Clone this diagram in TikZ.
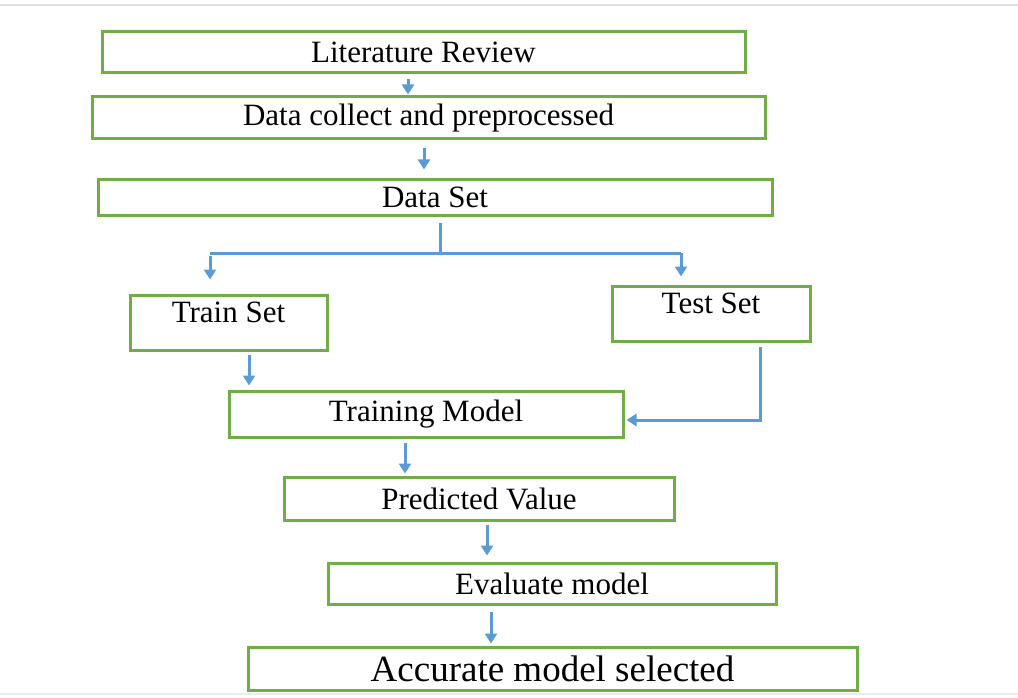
\documentclass[tikz,border=0pt]{standalone}
\usepackage{fontspec}
\setmainfont{Liberation Serif}
\usetikzlibrary{arrows.meta}
\definecolor{boxgreen}{RGB}{112,173,71}
\definecolor{flowblue}{RGB}{91,155,213}
\begin{document}
\begin{tikzpicture}[x=1pt,y=-1pt,->,>={Triangle[width=12pt,length=10pt]},
                stage/.style={draw=boxgreen,line width=3pt,inner sep=0pt,font=\fontsize{31}{37}\selectfont},
                flow/.style={flowblue,line width=3pt},
                every edge/.style={draw,flow}]
                \fill [white] (0,0) rectangle (1018,698);
                \useasboundingbox (0,0) rectangle (1018,698);
                \draw [-,black!12,line width=1.5pt] (0,5) -- (1018,5);
                \draw [-,black!8,line width=1.5pt] (0,694) -- (1018,694);
                \node [stage,minimum width=643pt,minimum height=41pt] (lit) at (423.5,52.5) {Literature Review};
                \node [stage,minimum width=673pt,minimum height=42pt] (data) at (428.5,118) {Data collect and preprocessed};
                \node [stage,minimum width=674pt,minimum height=35pt] (dataset) at (435,197.5) {Data Set};
                \node [stage,minimum width=197pt,text height=27pt,text depth=28pt] (train) at (228.5,322.5) {Train Set};
                \node [stage,minimum width=198pt,text height=27pt,text depth=28pt] (test) at (711,313.5) {Test Set};
                \node [stage,minimum width=394pt,minimum height=46pt] (model) at (426,414) {Training Model};
                \node [stage,minimum width=390pt,minimum height=43pt] (pred) at (479,498.5) {Predicted Value};
                \node [stage,minimum width=448pt,minimum height=41pt] (eval) at (552,583.5) {Evaluate model};
                \node [stage,minimum width=609pt,minimum height=43pt,font=\fontsize{37}{44}\selectfont] (acc) at (552.5,668.5) {Accurate model selected};
                \coordinate (fork) at (440,253);
                \path ([xshift=-15.5pt,yshift=-5pt]lit.south) edge [shorten >=1pt] ([xshift=-15.5pt]lit.south |- data.north);
                \path ([xshift=-4.5pt,yshift=-8pt]data.south) edge [shorten >=9pt] ([xshift=-4.5pt]data.south |- dataset.north);
                \draw [-,flow] ([xshift=5pt,yshift=-6pt]dataset.south) -- (fork);
                \draw [-,flow] ([xshift=-18.5pt]train.north |- fork) -- ([xshift=-30pt]test.north |- fork);
                \path ([xshift=-18.5pt,yshift=-3pt]train.north |- fork) edge [shorten >=14pt] ([xshift=-18.5pt]train.north);
                \path ([xshift=-30pt]test.north |- fork) edge [shorten >=8pt] ([xshift=-30pt]test.north);
                \path ([xshift=20.5pt,yshift=-3pt]train.south) edge [shorten >=4pt] ([xshift=20.5pt]train.south |- model.north);
                \draw [flow,shorten >=2pt] ([xshift=49pt,yshift=-4pt]test.south) |- ([yshift=-6pt]model.east);
                \path ([xshift=-21pt,yshift=-4pt]model.south) edge [shorten >=2pt] ([xshift=-21pt]model.south |- pred.north);
                \path ([xshift=8pt,yshift=-3pt]pred.south) edge [shorten >=6pt] ([xshift=8pt]pred.south |- eval.north);
                \path ([xshift=-61pt,yshift=-6pt]eval.south) edge [shorten >=2pt] ([xshift=-61pt]eval.south |- acc.north);
            \end{tikzpicture}
\end{document}
